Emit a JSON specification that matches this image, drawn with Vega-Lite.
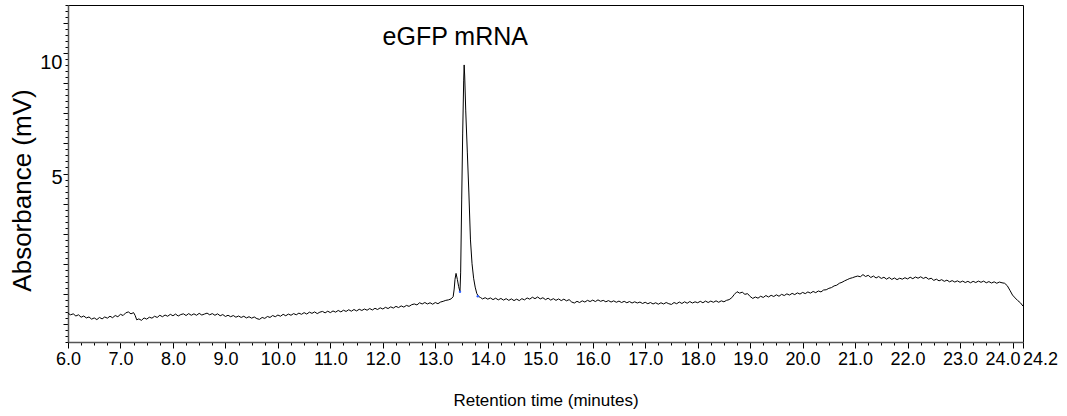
{
  "$schema": "https://vega.github.io/schema/vega-lite/v6.json",
  "width": 955,
  "height": 337,
  "autosize": {"type": "none"},
  "padding": {"left": 68, "top": 5, "right": 44, "bottom": 74},
  "background": "white",
  "config": {"font": "Liberation Sans", "view": {"stroke": "black", "strokeWidth": 1}},
  "datasets": {
    "trace": [
      {"t":6.00,"v":-0.81},{"t":6.05,"v":-0.87},{"t":6.10,"v":-0.83},{"t":6.15,"v":-0.92},{"t":6.20,"v":-0.87},{"t":6.25,"v":-0.97},{"t":6.30,"v":-0.92},{"t":6.35,"v":-1.00},{"t":6.40,"v":-0.96},{"t":6.45,"v":-1.05},
      {"t":6.50,"v":-1.00},{"t":6.55,"v":-1.07},{"t":6.60,"v":-0.98},{"t":6.65,"v":-1.04},{"t":6.70,"v":-0.96},{"t":6.75,"v":-1.01},{"t":6.80,"v":-0.93},{"t":6.85,"v":-0.99},{"t":6.90,"v":-0.90},{"t":6.95,"v":-0.95},
      {"t":7.00,"v":-0.85},{"t":7.05,"v":-0.90},{"t":7.10,"v":-0.79},{"t":7.15,"v":-0.75},{"t":7.20,"v":-0.83},{"t":7.25,"v":-0.78},{"t":7.28,"v":-0.90},{"t":7.31,"v":-1.08},{"t":7.35,"v":-1.04},{"t":7.40,"v":-1.10},
      {"t":7.45,"v":-1.00},{"t":7.50,"v":-1.05},{"t":7.55,"v":-0.97},{"t":7.60,"v":-1.01},{"t":7.65,"v":-0.93},{"t":7.70,"v":-0.98},{"t":7.75,"v":-0.89},{"t":7.80,"v":-0.95},{"t":7.85,"v":-0.88},{"t":7.90,"v":-0.93},
      {"t":7.95,"v":-0.85},{"t":8.00,"v":-0.91},{"t":8.05,"v":-0.84},{"t":8.10,"v":-0.92},{"t":8.15,"v":-0.86},{"t":8.20,"v":-0.83},{"t":8.25,"v":-0.90},{"t":8.30,"v":-0.82},{"t":8.35,"v":-0.89},{"t":8.40,"v":-0.83},
      {"t":8.45,"v":-0.89},{"t":8.50,"v":-0.81},{"t":8.55,"v":-0.88},{"t":8.60,"v":-0.84},{"t":8.65,"v":-0.80},{"t":8.70,"v":-0.87},{"t":8.75,"v":-0.82},{"t":8.80,"v":-0.89},{"t":8.85,"v":-0.83},{"t":8.90,"v":-0.91},
      {"t":8.95,"v":-0.86},{"t":9.00,"v":-0.94},{"t":9.05,"v":-0.89},{"t":9.10,"v":-0.95},{"t":9.15,"v":-0.90},{"t":9.20,"v":-0.97},{"t":9.25,"v":-0.92},{"t":9.30,"v":-0.98},{"t":9.35,"v":-0.93},{"t":9.40,"v":-1.00},
      {"t":9.45,"v":-0.95},{"t":9.50,"v":-1.01},{"t":9.55,"v":-0.96},{"t":9.60,"v":-1.03},{"t":9.65,"v":-1.06},{"t":9.70,"v":-0.98},{"t":9.75,"v":-1.02},{"t":9.80,"v":-0.94},{"t":9.85,"v":-0.98},{"t":9.90,"v":-0.90},
      {"t":9.95,"v":-0.95},{"t":10.00,"v":-0.88},{"t":10.05,"v":-0.93},{"t":10.10,"v":-0.85},{"t":10.15,"v":-0.91},{"t":10.20,"v":-0.84},{"t":10.25,"v":-0.89},{"t":10.30,"v":-0.82},{"t":10.35,"v":-0.87},{"t":10.40,"v":-0.80},
      {"t":10.45,"v":-0.85},{"t":10.50,"v":-0.78},{"t":10.55,"v":-0.84},{"t":10.60,"v":-0.76},{"t":10.65,"v":-0.81},{"t":10.70,"v":-0.75},{"t":10.75,"v":-0.82},{"t":10.80,"v":-0.76},{"t":10.85,"v":-0.73},{"t":10.90,"v":-0.79},
      {"t":10.95,"v":-0.72},{"t":11.00,"v":-0.78},{"t":11.05,"v":-0.71},{"t":11.10,"v":-0.76},{"t":11.15,"v":-0.69},{"t":11.20,"v":-0.75},{"t":11.25,"v":-0.68},{"t":11.30,"v":-0.73},{"t":11.35,"v":-0.66},{"t":11.40,"v":-0.72},
      {"t":11.45,"v":-0.65},{"t":11.50,"v":-0.71},{"t":11.55,"v":-0.64},{"t":11.60,"v":-0.69},{"t":11.65,"v":-0.63},{"t":11.70,"v":-0.68},{"t":11.75,"v":-0.61},{"t":11.80,"v":-0.67},{"t":11.85,"v":-0.60},{"t":11.90,"v":-0.65},
      {"t":11.95,"v":-0.58},{"t":12.00,"v":-0.63},{"t":12.05,"v":-0.56},{"t":12.10,"v":-0.61},{"t":12.15,"v":-0.54},{"t":12.20,"v":-0.59},{"t":12.25,"v":-0.52},{"t":12.30,"v":-0.57},{"t":12.35,"v":-0.50},{"t":12.40,"v":-0.55},
      {"t":12.45,"v":-0.48},{"t":12.50,"v":-0.52},{"t":12.55,"v":-0.45},{"t":12.60,"v":-0.42},{"t":12.65,"v":-0.46},{"t":12.70,"v":-0.37},{"t":12.75,"v":-0.42},{"t":12.80,"v":-0.36},{"t":12.85,"v":-0.42},{"t":12.90,"v":-0.37},
      {"t":12.95,"v":-0.43},{"t":13.00,"v":-0.36},{"t":13.05,"v":-0.41},{"t":13.10,"v":-0.34},{"t":13.15,"v":-0.31},{"t":13.20,"v":-0.27},{"t":13.25,"v":-0.25},{"t":13.30,"v":-0.21},
      {"t":13.34,"v":-0.12},{"t":13.36,"v":0.20},{"t":13.375,"v":0.60},{"t":13.395,"v":0.85},{"t":13.42,"v":0.60},{"t":13.445,"v":0.30},{"t":13.47,"v":0.09},{"t":13.483,"v":0.87},{"t":13.503,"v":3.90},{"t":13.522,"v":6.68},
      {"t":13.541,"v":8.88},{"t":13.55,"v":9.51},{"t":13.56,"v":9.05},{"t":13.58,"v":7.60},{"t":13.61,"v":5.89},{"t":13.64,"v":4.19},{"t":13.67,"v":2.24},{"t":13.70,"v":1.25},{"t":13.73,"v":0.65},{"t":13.76,"v":0.28},
      {"t":13.79,"v":0.02},{"t":13.82,"v":-0.10},{"t":13.86,"v":-0.15},{"t":13.90,"v":-0.21},{"t":13.95,"v":-0.16},{"t":14.00,"v":-0.22},{"t":14.05,"v":-0.17},{"t":14.10,"v":-0.24},{"t":14.15,"v":-0.18},{"t":14.20,"v":-0.25},
      {"t":14.25,"v":-0.19},{"t":14.30,"v":-0.26},{"t":14.35,"v":-0.20},{"t":14.40,"v":-0.27},{"t":14.45,"v":-0.21},{"t":14.50,"v":-0.28},{"t":14.55,"v":-0.22},{"t":14.60,"v":-0.28},{"t":14.65,"v":-0.20},{"t":14.70,"v":-0.25},
      {"t":14.75,"v":-0.17},{"t":14.80,"v":-0.22},{"t":14.85,"v":-0.14},{"t":14.90,"v":-0.20},{"t":14.95,"v":-0.13},{"t":15.00,"v":-0.21},{"t":15.05,"v":-0.16},{"t":15.10,"v":-0.24},{"t":15.15,"v":-0.18},{"t":15.20,"v":-0.26},
      {"t":15.25,"v":-0.20},{"t":15.30,"v":-0.27},{"t":15.35,"v":-0.21},{"t":15.40,"v":-0.28},{"t":15.45,"v":-0.22},{"t":15.50,"v":-0.29},{"t":15.55,"v":-0.24},{"t":15.60,"v":-0.34},{"t":15.65,"v":-0.38},{"t":15.70,"v":-0.31},
      {"t":15.75,"v":-0.36},{"t":15.80,"v":-0.29},{"t":15.85,"v":-0.34},{"t":15.90,"v":-0.27},{"t":15.95,"v":-0.32},{"t":16.00,"v":-0.26},{"t":16.05,"v":-0.32},{"t":16.10,"v":-0.25},{"t":16.15,"v":-0.31},{"t":16.20,"v":-0.27},
      {"t":16.25,"v":-0.33},{"t":16.30,"v":-0.28},{"t":16.35,"v":-0.34},{"t":16.40,"v":-0.29},{"t":16.45,"v":-0.35},{"t":16.50,"v":-0.30},{"t":16.55,"v":-0.36},{"t":16.60,"v":-0.31},{"t":16.65,"v":-0.37},{"t":16.70,"v":-0.32},
      {"t":16.75,"v":-0.38},{"t":16.80,"v":-0.33},{"t":16.85,"v":-0.38},{"t":16.90,"v":-0.34},{"t":16.95,"v":-0.40},{"t":17.00,"v":-0.35},{"t":17.05,"v":-0.41},{"t":17.10,"v":-0.36},{"t":17.15,"v":-0.42},{"t":17.20,"v":-0.37},
      {"t":17.25,"v":-0.43},{"t":17.30,"v":-0.37},{"t":17.35,"v":-0.42},{"t":17.40,"v":-0.36},{"t":17.45,"v":-0.41},{"t":17.50,"v":-0.44},{"t":17.55,"v":-0.36},{"t":17.60,"v":-0.41},{"t":17.65,"v":-0.34},{"t":17.70,"v":-0.40},
      {"t":17.75,"v":-0.33},{"t":17.80,"v":-0.39},{"t":17.85,"v":-0.32},{"t":17.90,"v":-0.38},{"t":17.95,"v":-0.33},{"t":18.00,"v":-0.37},{"t":18.05,"v":-0.31},{"t":18.10,"v":-0.37},{"t":18.15,"v":-0.30},{"t":18.20,"v":-0.36},
      {"t":18.25,"v":-0.30},{"t":18.30,"v":-0.35},{"t":18.35,"v":-0.29},{"t":18.40,"v":-0.35},{"t":18.45,"v":-0.29},{"t":18.50,"v":-0.33},{"t":18.55,"v":-0.27},{"t":18.60,"v":-0.24},{"t":18.65,"v":-0.16},{"t":18.70,"v":-0.02},
      {"t":18.75,"v":0.09},{"t":18.80,"v":0.03},{"t":18.85,"v":0.07},{"t":18.90,"v":-0.02},{"t":18.95,"v":0.01},{"t":19.00,"v":-0.11},{"t":19.05,"v":-0.19},{"t":19.10,"v":-0.13},{"t":19.15,"v":-0.18},{"t":19.20,"v":-0.10},
      {"t":19.25,"v":-0.15},{"t":19.30,"v":-0.07},{"t":19.35,"v":-0.13},{"t":19.40,"v":-0.06},{"t":19.45,"v":-0.11},{"t":19.50,"v":-0.04},{"t":19.55,"v":-0.10},{"t":19.60,"v":-0.02},{"t":19.65,"v":-0.07},{"t":19.70,"v":0.00},
      {"t":19.75,"v":-0.05},{"t":19.80,"v":0.02},{"t":19.85,"v":-0.03},{"t":19.90,"v":0.04},{"t":19.95,"v":-0.01},{"t":20.00,"v":0.06},{"t":20.05,"v":0.01},{"t":20.10,"v":0.08},{"t":20.15,"v":0.03},{"t":20.20,"v":0.10},
      {"t":20.25,"v":0.05},{"t":20.30,"v":0.12},{"t":20.35,"v":0.08},{"t":20.40,"v":0.16},{"t":20.45,"v":0.17},{"t":20.50,"v":0.23},{"t":20.55,"v":0.26},{"t":20.60,"v":0.33},{"t":20.65,"v":0.36},{"t":20.70,"v":0.44},
      {"t":20.75,"v":0.48},{"t":20.80,"v":0.54},{"t":20.85,"v":0.59},{"t":20.90,"v":0.64},{"t":20.95,"v":0.67},{"t":21.00,"v":0.71},{"t":21.05,"v":0.74},{"t":21.10,"v":0.71},{"t":21.15,"v":0.80},{"t":21.20,"v":0.72},
      {"t":21.25,"v":0.77},{"t":21.30,"v":0.68},{"t":21.35,"v":0.74},{"t":21.40,"v":0.66},{"t":21.45,"v":0.72},{"t":21.50,"v":0.64},{"t":21.55,"v":0.69},{"t":21.60,"v":0.61},{"t":21.65,"v":0.68},{"t":21.70,"v":0.60},
      {"t":21.75,"v":0.66},{"t":21.80,"v":0.59},{"t":21.85,"v":0.65},{"t":21.90,"v":0.61},{"t":21.95,"v":0.67},{"t":22.00,"v":0.62},{"t":22.05,"v":0.69},{"t":22.10,"v":0.63},{"t":22.15,"v":0.70},{"t":22.20,"v":0.65},
      {"t":22.25,"v":0.71},{"t":22.30,"v":0.64},{"t":22.35,"v":0.69},{"t":22.40,"v":0.61},{"t":22.45,"v":0.65},{"t":22.50,"v":0.56},{"t":22.55,"v":0.61},{"t":22.60,"v":0.54},{"t":22.65,"v":0.59},{"t":22.70,"v":0.52},
      {"t":22.75,"v":0.57},{"t":22.80,"v":0.50},{"t":22.85,"v":0.55},{"t":22.90,"v":0.49},{"t":22.95,"v":0.54},{"t":23.00,"v":0.48},{"t":23.05,"v":0.53},{"t":23.10,"v":0.47},{"t":23.15,"v":0.52},{"t":23.20,"v":0.46},
      {"t":23.25,"v":0.52},{"t":23.30,"v":0.47},{"t":23.35,"v":0.53},{"t":23.40,"v":0.48},{"t":23.45,"v":0.53},{"t":23.50,"v":0.46},{"t":23.55,"v":0.51},{"t":23.60,"v":0.45},{"t":23.65,"v":0.50},{"t":23.70,"v":0.44},
      {"t":23.75,"v":0.49},{"t":23.80,"v":0.46},{"t":23.85,"v":0.44},{"t":23.90,"v":0.34},{"t":23.95,"v":0.15},{"t":24.00,"v":-0.05},{"t":24.05,"v":-0.17},{"t":24.10,"v":-0.28},{"t":24.15,"v":-0.37},{"t":24.20,"v":-0.51}
    ],
    "markers": [{"t":13.47,"v":0.09},{"t":13.81,"v":-0.10}],
    "notes": [{"t":13.38,"v":10.34,"label":"eGFP mRNA"}]
  },
  "encoding": {
    "x": {
      "field": "t", "type": "quantitative",
      "scale": {"domain": [6, 24.2], "nice": false, "zero": false},
      "axis": {
        "title": "Retention time (minutes)",
        "values": [6,6.25,6.5,6.75,7,7.25,7.5,7.75,8,8.25,8.5,8.75,9,9.25,9.5,9.75,10,10.25,10.5,10.75,11,11.25,11.5,11.75,12,12.25,12.5,12.75,13,13.25,13.5,13.75,14,14.25,14.5,14.75,15,15.25,15.5,15.75,16,16.25,16.5,16.75,17,17.25,17.5,17.75,18,18.25,18.5,18.75,19,19.25,19.5,19.75,20,20.25,20.5,20.75,21,21.25,21.5,21.75,22,22.25,22.5,22.75,23,23.25,23.5,23.75,24,24.2],
        "labelExpr": "datum.value == 24.2 ? '24.2' : (datum.value % 1 == 0 ? format(datum.value, '.1f') : '')",
        "labelFlush": false, "labelOverlap": false, "labelBound": false,
        "labelFont": "Liberation Sans", "labelFontSize": 18, "labelColor": "black", "labelPadding": 2,
        "labelOffset": {"condition": [{"test": "datum.value == 24.2", "value": 17}, {"test": "datum.value == 24", "value": -10}], "value": 0},
        "tickColor": "black", "tickWidth": 1,
        "tickSize": {"condition": {"test": "datum.value % 1 == 0 || datum.value == 24.2", "value": 6}, "value": 3},
        "domainColor": "#555555", "domainWidth": 1.5, "grid": false,
        "titleFont": "Liberation Sans", "titleFontSize": 17, "titleFontWeight": "normal", "titleColor": "black",
        "titleY": 58, "titleBaseline": "middle"
      }
    },
    "y": {
      "field": "v", "type": "quantitative",
      "scale": {"domain": [-2, 12], "nice": false, "zero": false},
      "axis": {
        "title": "Absorbance (mV)",
        "values": [-2,-1.75,-1.5,-1.25,-1,-0.75,-0.5,-0.25,0,0.25,0.5,0.75,1,1.25,1.5,1.75,2,2.25,2.5,2.75,3,3.25,3.5,3.75,4,4.25,4.5,4.75,5,5.25,5.5,5.75,6,6.25,6.5,6.75,7,7.25,7.5,7.75,8,8.25,8.5,8.75,9,9.25,9.5,9.75,10,10.25,10.5,10.75,11,11.25,11.5,11.75,12],
        "labelExpr": "datum.value == 10 ? '10' : (datum.value == 5 ? '5' : '')",
        "labelFlush": false, "labelOverlap": false, "labelBound": false,
        "labelFont": "Liberation Sans", "labelFontSize": 20, "labelColor": "black", "labelPadding": 1,
        "labelOffset": {"condition": {"test": "datum.value == 10", "value": 9}, "value": 4},
        "tickColor": "black", "tickWidth": 1,
        "tickSize": {"condition": {"test": "abs(datum.value / 1.25 - round(datum.value / 1.25)) < 0.001", "value": 5}, "value": 3},
        "domainColor": "#555555", "domainWidth": 1.5, "grid": false,
        "titleFont": "Liberation Sans", "titleFontSize": 26, "titleFontWeight": "normal", "titleColor": "black",
        "titleX": -46, "titleY": 185, "titleBaseline": "middle", "titleAlign": "center", "titleAngle": 270
      }
    }
  },
  "layer": [
    {
      "data": {"name": "trace"},
      "mark": {"type": "line", "color": "black", "strokeWidth": 1, "interpolate": "linear"}
    },
    {
      "data": {"name": "markers"},
      "mark": {"type": "circle", "color": "#2f5fff", "size": 6, "opacity": 1}
    },
    {
      "data": {"name": "notes"},
      "mark": {"type": "text", "font": "Liberation Sans", "fontSize": 25, "align": "center", "baseline": "alphabetic", "color": "black"},
      "encoding": {"text": {"field": "label", "type": "nominal"}}
    }
  ]
}
